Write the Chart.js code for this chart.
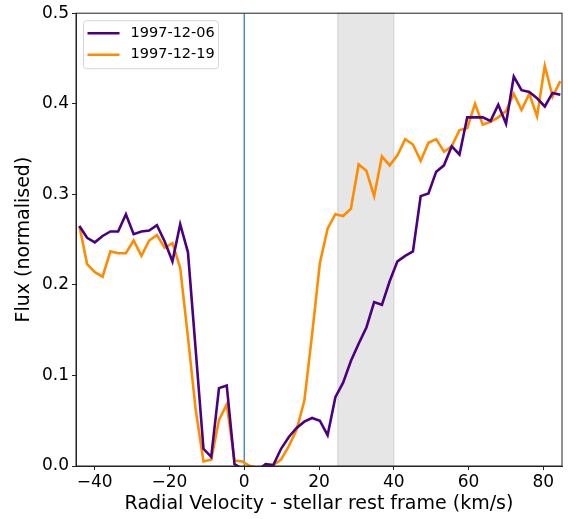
<!DOCTYPE html>
<html>
<head>
<meta charset="utf-8">
<script src="https://cdn.jsdelivr.net/npm/chart.js@4.4.0/dist/chart.umd.min.js"></script>
<style>
  html, body { margin: 0; padding: 0; background: #ffffff; }
  #wrap { width: 568px; height: 519px; position: relative; }
</style>
</head>
<body>
<div id="wrap"><canvas id="c" width="568" height="519"></canvas></div>
<script>
const velocities = [
  -44.10, -42.03, -39.95, -37.88, -35.80, -33.73, -31.65, -29.58, -27.50, -25.43,
  -23.35, -21.28, -19.20, -17.13, -15.05, -12.98, -10.90, -8.83, -6.75, -4.68,
  -2.60, -0.53, 1.55, 3.63, 5.70, 7.78, 9.85, 11.93, 14.00, 16.08,
  18.15, 20.23, 22.30, 24.38, 26.45, 28.53, 30.60, 32.68, 34.75, 36.83,
  38.90, 40.98, 43.05, 45.13, 47.20, 49.28, 51.35, 53.43, 55.50, 57.58,
  59.65, 61.73, 63.80, 65.88, 67.95, 70.03, 72.10, 74.18, 76.25, 78.33,
  80.40, 82.48, 84.55
];
const flux19971206 = [
  0.265, 0.252, 0.247, 0.254, 0.259, 0.259, 0.278, 0.256, 0.259, 0.260,
  0.266, 0.248, 0.226, 0.267, 0.236, 0.128, 0.019, 0.010, 0.086, 0.089,
  0.002, -0.003, -0.005, -0.005, 0.002, 0.001, 0.019, 0.032, 0.042, 0.049,
  0.053, 0.050, 0.034, 0.076, 0.092, 0.116, 0.135, 0.153, 0.181, 0.178,
  0.204, 0.226, 0.232, 0.237, 0.298, 0.301, 0.325, 0.332, 0.353, 0.344,
  0.385, 0.385, 0.385, 0.381, 0.399, 0.378, 0.430, 0.415, 0.413, 0.406,
  0.397, 0.412, 0.410
];
const flux19971219 = [
  0.265, 0.223, 0.214, 0.209, 0.237, 0.235, 0.235, 0.249, 0.232, 0.249,
  0.255, 0.241, 0.246, 0.219, 0.142, 0.062, 0.005, 0.007, 0.051, 0.068,
  0.006, 0.005, 0.000, -0.002, 0.000, 0.001, 0.007, 0.022, 0.040, 0.072,
  0.145, 0.224, 0.262, 0.278, 0.276, 0.284, 0.333, 0.326, 0.298, 0.342,
  0.332, 0.343, 0.361, 0.355, 0.337, 0.357, 0.361, 0.347, 0.353, 0.371,
  0.373, 0.400, 0.377, 0.380, 0.385, 0.392, 0.411, 0.393, 0.411, 0.386,
  0.442, 0.408, 0.425
];
const seriesLabels = ['1997-12-06', '1997-12-19'];
const xTicks = [-40, -20, 0, 20, 40, 60, 80];
const yTicks = [0.0, 0.1, 0.2, 0.3, 0.4, 0.5];
const shadedRange = [25, 40];
const restVelocity = [0];

const FONT = "'DejaVu Sans', sans-serif";

const toXY = (xs, ys) => xs.map((x, i) => ({ x: x, y: ys[i] }));

const annotations = {
  id: 'annotations',
  beforeDatasetsDraw(chart) {
    const { ctx, chartArea: a, scales: { x } } = chart;
    ctx.save();
    const x0 = x.getPixelForValue(shadedRange[0]);
    const x1 = x.getPixelForValue(shadedRange[1]);
    ctx.fillStyle = 'rgba(128,128,128,0.2)';
    ctx.fillRect(x0, a.top, x1 - x0, a.bottom - a.top);
    ctx.strokeStyle = 'rgba(128,128,128,0.2)';
    ctx.lineWidth = 1.5;
    ctx.strokeRect(x0, a.top, x1 - x0, a.bottom - a.top);
    ctx.strokeStyle = '#1f77b4';
    ctx.lineWidth = 1.2;
    restVelocity.forEach(v => {
      const px = x.getPixelForValue(v);
      ctx.beginPath();
      ctx.moveTo(px, a.top);
      ctx.lineTo(px, a.bottom);
      ctx.stroke();
    });
    ctx.restore();
  },
  afterDatasetsDraw(chart) {
    const { ctx, chartArea: a } = chart;
    ctx.save();
    ctx.strokeStyle = '#222';
    ctx.lineWidth = 1;
    ctx.strokeRect(a.left, a.top, a.right - a.left, a.bottom - a.top);
    // legend
    const bx = a.left + 7.5, by = a.top + 7.5, bw = 135, bh = 48;
    ctx.fillStyle = 'rgba(255,255,255,0.8)';
    ctx.strokeStyle = '#d6d6d6';
    ctx.lineWidth = 1;
    ctx.beginPath();
    if (ctx.roundRect) ctx.roundRect(bx, by, bw, bh, 3); else ctx.rect(bx, by, bw, bh);
    ctx.fill();
    ctx.stroke();
    ctx.font = '14.5px ' + FONT;
    ctx.textBaseline = 'middle';
    ctx.textAlign = 'left';
    chart.data.datasets.forEach((ds, i) => {
      const yy = by + 12.5 + i * 21.5;
      ctx.strokeStyle = ds.borderColor;
      ctx.lineWidth = 2.6;
      ctx.beginPath();
      ctx.moveTo(bx + 4, yy);
      ctx.lineTo(bx + 36, yy);
      ctx.stroke();
      ctx.fillStyle = '#000';
      ctx.fillText(ds.label, bx + 47, yy);
    });
    ctx.restore();
  }
};

new Chart(document.getElementById('c'), {
  type: 'line',
  data: {
    datasets: [
      { label: seriesLabels[0], data: toXY(velocities, flux19971206), borderColor: '#4b0082', borderWidth: 2.6, pointRadius: 0, tension: 0, fill: false },
      { label: seriesLabels[1], data: toXY(velocities, flux19971219), borderColor: '#ff8c00', borderWidth: 2.6, pointRadius: 0, tension: 0, fill: false }
    ]
  },
  options: {
    responsive: false,
    animation: false,
    devicePixelRatio: 1,
    layout: { padding: { top: 10, right: 6, left: 0, bottom: 0 } },
    plugins: { legend: { display: false }, tooltip: { enabled: false } },
    scales: {
      x: {
        type: 'linear',
        min: -45, max: 85,
        afterBuildTicks(scale) { scale.ticks = xTicks.map(v => ({ value: v })); },
        afterFit(scale) { scale.height = 53; },
        ticks: {
          includeBounds: false,
          color: '#000',
          font: { family: FONT, size: 17 },
          padding: 2,
          maxRotation: 0,
          callback: v => (v < 0 ? '\u2212' + Math.abs(v) : String(v))
        },
        grid: { display: true, drawOnChartArea: false, drawTicks: true, tickLength: 4, color: '#222' },
        border: { display: true, color: '#222' },
        title: { display: true, text: 'Radial Velocity - stellar rest frame (km/s)', color: '#000', font: { family: FONT, size: 19 }, padding: { top: 0, bottom: 4 } }
      },
      y: {
        type: 'linear',
        min: 0, max: 0.5,
        afterBuildTicks(scale) { scale.ticks = yTicks.map(v => ({ value: v })); },
        afterFit(scale) { scale.width = 76; },
        ticks: {
          includeBounds: false,
          color: '#000',
          font: { family: FONT, size: 17 },
          padding: 3,
          callback: v => Number(v).toFixed(1)
        },
        grid: { display: true, drawOnChartArea: false, drawTicks: true, tickLength: 4, color: '#222' },
        border: { display: true, color: '#222' },
        title: { display: true, text: 'Flux (normalised)', color: '#000', font: { family: FONT, size: 19 }, padding: { top: 13, bottom: 0 } }
      }
    }
  },
  plugins: [annotations]
});
</script>
</body>
</html>
